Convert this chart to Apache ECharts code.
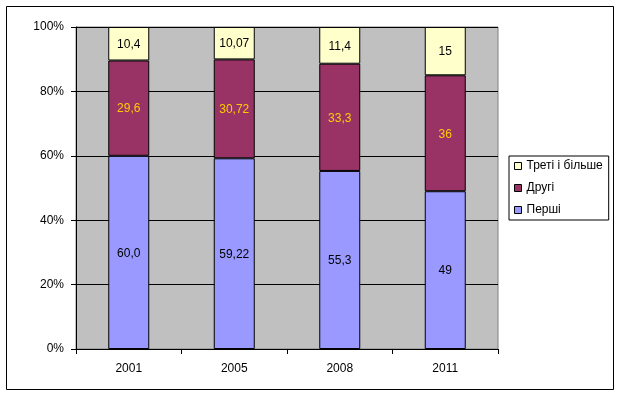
<!DOCTYPE html>
<html>
<head>
<meta charset="utf-8">
<script src="https://cdn.jsdelivr.net/npm/echarts@6/dist/echarts.min.js"></script>
<style>
html,body{margin:0;padding:0;background:#fff;}
#chart{width:621px;height:396px;}
</style>
</head>
<body>
<div id="chart"></div>
<script>
const categories = ['2001', '2005', '2008', '2011'];
const firstValues = [60.0, 59.22, 55.3, 49];
const secondValues = [29.6, 30.72, 33.3, 36];
const thirdValues = [10.4, 10.07, 11.4, 15];
const firstLabels = ['60,0', '59,22', '55,3', '49'];
const secondLabels = ['29,6', '30,72', '33,3', '36'];
const thirdLabels = ['10,4', '10,07', '11,4', '15'];
const yTicks = [0, 20, 40, 60, 80, 100];

const FONT = 'Liberation Sans, Arial, sans-serif';
const chart = echarts.init(document.getElementById('chart'), null, {renderer: 'canvas'});

function mkSeries(name, values, labels, color, labelColor) {
  return {
    name: name,
    type: 'bar',
    stack: 'total',
    barWidth: 41,
    data: values,
    itemStyle: {color: color, borderColor: '#000', borderWidth: 1},
    label: {
      show: true,
      position: 'inside',
      offset: [0, 1],
      color: labelColor,
      fontFamily: FONT,
      fontSize: 12,
      formatter: p => labels[p.dataIndex]
    },
    emphasis: {disabled: true},
    animation: false
  };
}

chart.setOption({
  animation: false,
  backgroundColor: '#fff',
  graphic: [{
    type: 'rect',
    shape: {x: 6.5, y: 6.5, width: 607, height: 383},
    style: {fill: 'none', stroke: '#000', lineWidth: 1},
    silent: true,
    z: 100
  }],
  grid: {
    left: 76, top: 27, width: 422, height: 322,
    show: true, backgroundColor: '#C0C0C0', borderColor: '#808080', borderWidth: 1
  },
  legend: {
    orient: 'vertical',
    left: 509, top: 156,
    data: ['Треті і більше', 'Другі', 'Перші'],
    icon: 'rect',
    itemWidth: 7, itemHeight: 7,
    itemGap: 8,
    padding: [3, 6, 3, 5],
    borderColor: '#000', borderWidth: 1,
    itemStyle: {borderColor: '#000', borderWidth: 1},
    textStyle: {fontFamily: FONT, fontSize: 12, lineHeight: 14, color: '#000'}
  },
  xAxis: {
    type: 'category',
    data: categories,
    boundaryGap: true,
    axisLine: {show: true, lineStyle: {color: '#000', width: 1}},
    axisTick: {show: true, length: 5, inside: false, alignWithLabel: false, lineStyle: {color: '#000'}},
    axisLabel: {color: '#000', fontFamily: FONT, fontSize: 12, margin: 14},
    splitLine: {show: false}
  },
  yAxis: {
    type: 'value',
    min: yTicks[0], max: yTicks[yTicks.length - 1], interval: 20,
    axisLine: {show: true, lineStyle: {color: '#000', width: 1}},
    axisTick: {show: true, length: 5, inside: false, lineStyle: {color: '#000'}},
    axisLabel: {color: '#000', fontFamily: FONT, fontSize: 12, margin: 12, formatter: '{value}%'},
    splitLine: {show: true, lineStyle: {color: '#000', width: 1}}
  },
  series: [
    mkSeries('Перші', firstValues, firstLabels, '#9999FF', '#000'),
    mkSeries('Другі', secondValues, secondLabels, '#993366', '#FFCC00'),
    mkSeries('Треті і більше', thirdValues, thirdLabels, '#FFFFCC', '#000')
  ]
});
</script>
</body>
</html>
